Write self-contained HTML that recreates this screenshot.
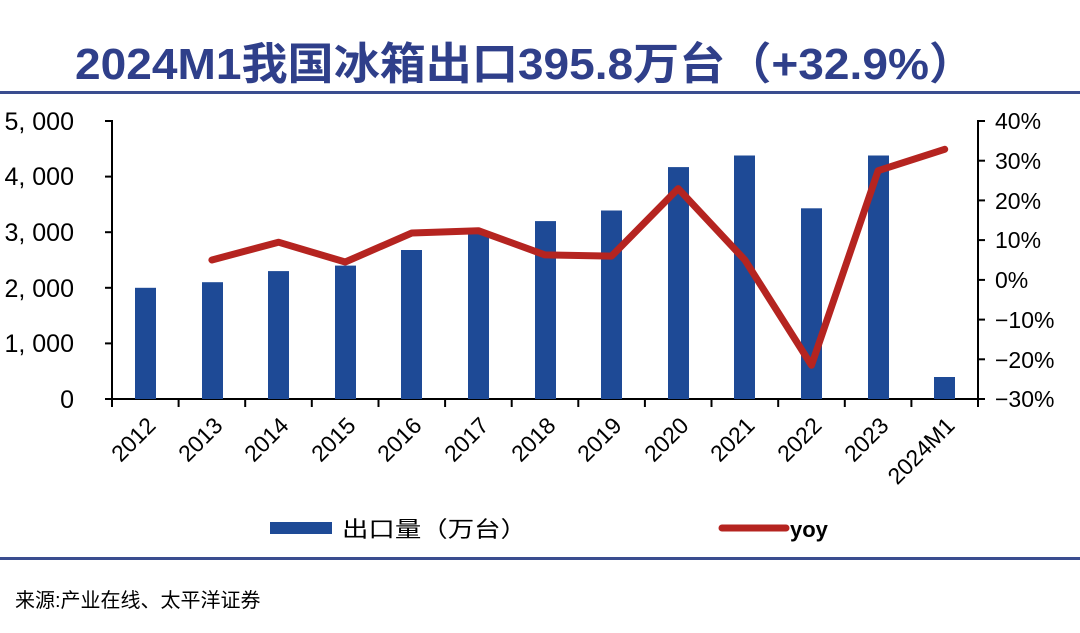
<!DOCTYPE html>
<html><head><meta charset="utf-8"><style>
html,body{margin:0;padding:0;background:#fff;}
svg{display:block;}
text{font-family:"Liberation Sans","Noto Sans CJK SC",sans-serif;}
</style></head><body>
<svg width="1080" height="633" viewBox="0 0 1080 633" xmlns="http://www.w3.org/2000/svg">
<text x="75" y="79" font-size="44" font-weight="bold" fill="#2f3f8a" textLength="900" lengthAdjust="spacingAndGlyphs">2024M1我国冰箱出口395.8万台（+32.9%）</text>
<rect x="0" y="91" width="1080" height="3" fill="#3a4d8f"/>
<g stroke="#000" stroke-width="2" fill="none">
<line x1="112" y1="120" x2="112" y2="399"/>
<line x1="978" y1="120" x2="978" y2="399"/>
<line x1="105" y1="399" x2="985" y2="399"/>
<line x1="105" y1="121" x2="112" y2="121"/><line x1="105" y1="176.6" x2="112" y2="176.6"/><line x1="105" y1="232.2" x2="112" y2="232.2"/><line x1="105" y1="287.8" x2="112" y2="287.8"/><line x1="105" y1="343.4" x2="112" y2="343.4"/>
<line x1="978" y1="121" x2="985" y2="121"/><line x1="978" y1="160.7" x2="985" y2="160.7"/><line x1="978" y1="200.4" x2="985" y2="200.4"/><line x1="978" y1="240.1" x2="985" y2="240.1"/><line x1="978" y1="279.9" x2="985" y2="279.9"/><line x1="978" y1="319.6" x2="985" y2="319.6"/><line x1="978" y1="359.3" x2="985" y2="359.3"/>
</g>
<g stroke="#000" stroke-width="2">
<line x1="112" y1="399" x2="112" y2="407"/><line x1="178.6" y1="399" x2="178.6" y2="407"/><line x1="245.2" y1="399" x2="245.2" y2="407"/><line x1="311.8" y1="399" x2="311.8" y2="407"/><line x1="378.5" y1="399" x2="378.5" y2="407"/><line x1="445.1" y1="399" x2="445.1" y2="407"/><line x1="511.7" y1="399" x2="511.7" y2="407"/><line x1="578.3" y1="399" x2="578.3" y2="407"/><line x1="644.9" y1="399" x2="644.9" y2="407"/><line x1="711.5" y1="399" x2="711.5" y2="407"/><line x1="778.2" y1="399" x2="778.2" y2="407"/><line x1="844.8" y1="399" x2="844.8" y2="407"/><line x1="911.4" y1="399" x2="911.4" y2="407"/><line x1="978" y1="399" x2="978" y2="407"/>
</g>
<g font-size="25" fill="#000" text-anchor="end">
<text x="74" y="130">5, 000</text><text x="74" y="185">4, 000</text><text x="74" y="241">3, 000</text><text x="74" y="297">2, 000</text><text x="74" y="352">1, 000</text><text x="74" y="408">0</text>
</g>
<g font-size="23" fill="#000" text-anchor="start">
<text x="995" y="129">40%</text><text x="995" y="169">30%</text><text x="995" y="209">20%</text><text x="995" y="248">10%</text><text x="995" y="288">0%</text><text x="995" y="328">−10%</text><text x="995" y="368">−20%</text><text x="995" y="407">−30%</text>
</g>
<g fill="#1e4a96">
<rect x="135" y="287.8" width="21" height="111.2"/>
<rect x="202" y="282.2" width="21" height="116.8"/>
<rect x="268" y="271.1" width="21" height="127.9"/>
<rect x="335" y="265.6" width="21" height="133.4"/>
<rect x="401" y="250" width="21" height="149"/>
<rect x="468" y="231.6" width="21" height="167.4"/>
<rect x="535" y="221.1" width="21" height="177.9"/>
<rect x="601" y="210.5" width="21" height="188.5"/>
<rect x="668" y="167.1" width="21" height="231.9"/>
<rect x="734" y="155.5" width="21" height="243.5"/>
<rect x="801" y="208.3" width="21" height="190.7"/>
<rect x="868" y="155.5" width="21" height="243.5"/>
<rect x="934" y="377" width="21" height="22"/>
</g>
<polyline fill="none" stroke="#b52420" stroke-width="7" stroke-linejoin="round" stroke-linecap="round"
points="211.9,260 278.5,242.2 345.2,262 411.8,233 478.4,230.7 545,254.9 611.6,256.1 678.2,188.6 744.9,260 811.5,365.3 878.1,170.7 944.7,149.3"/>
<g font-size="23" fill="#000">
<text transform="translate(157,427) rotate(-45)" text-anchor="end">2012</text>
<text transform="translate(224,427) rotate(-45)" text-anchor="end">2013</text>
<text transform="translate(290,427) rotate(-45)" text-anchor="end">2014</text>
<text transform="translate(357,427) rotate(-45)" text-anchor="end">2015</text>
<text transform="translate(423,427) rotate(-45)" text-anchor="end">2016</text>
<text transform="translate(490,427) rotate(-45)" text-anchor="end">2017</text>
<text transform="translate(557,427) rotate(-45)" text-anchor="end">2018</text>
<text transform="translate(623,427) rotate(-45)" text-anchor="end">2019</text>
<text transform="translate(690,427) rotate(-45)" text-anchor="end">2020</text>
<text transform="translate(756,427) rotate(-45)" text-anchor="end">2021</text>
<text transform="translate(823,427) rotate(-45)" text-anchor="end">2022</text>
<text transform="translate(890,427) rotate(-45)" text-anchor="end">2023</text>
<text transform="translate(956,427) rotate(-45)" text-anchor="end">2024M1</text>
</g>
<rect x="270" y="522" width="62" height="12" fill="#1e4a96"/>
<text x="342" y="537" font-size="22" fill="#000" textLength="185" lengthAdjust="spacingAndGlyphs">出口量（万台）</text>
<line x1="722" y1="528" x2="786" y2="528" stroke="#b52420" stroke-width="7" stroke-linecap="round"/>
<text x="790" y="537" font-size="22" font-weight="bold" fill="#000">yoy</text>
<rect x="0" y="557" width="1080" height="3" fill="#3a4d8f"/>
<text x="15" y="607" font-size="20" fill="#000">来源:产业在线、太平洋证券</text>
</svg>
</body></html>
